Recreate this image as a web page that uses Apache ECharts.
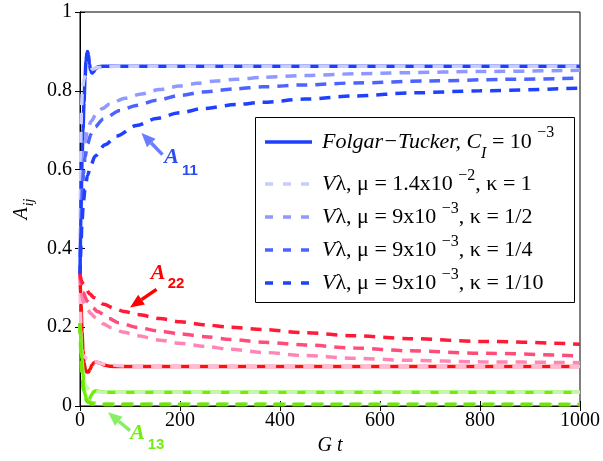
<!DOCTYPE html>
<html><head><meta charset="utf-8">
<script src="https://cdn.jsdelivr.net/npm/echarts@6/dist/echarts.min.js"></script>
<style>html,body{margin:0;padding:0;background:#fff}#c{width:603px;height:461px}</style>
</head><body><div id="c"></div>
<script>
// ---- axis ticks ----
const xTicks = [0, 200, 400, 600, 800, 1000];
const yTicks = [0, 0.2, 0.4, 0.6, 0.8, 1];

// ---- A11 (blue) : [Gt, value] ----
const a11_FT  = [[0,0.33],[2,0.5],[4,0.62],[6,0.7],[8,0.77],[10,0.83],[12,0.875],[14,0.897],[15,0.9],[17,0.89],[19,0.868],[21,0.852],[24,0.845],[27,0.848],[31,0.856],[36,0.861],[45,0.862],[1000,0.862]];
const a11_k1  = [[0,0.33],[1,0.55],[2,0.7],[3,0.76],[5,0.805],[8,0.83],[12,0.842],[18,0.85],[25,0.855],[35,0.859],[50,0.861],[80,0.862],[1000,0.862]];
const a11_k2  = [[0,0.33],[2,0.47],[4,0.56],[7,0.63],[10,0.67],[15,0.7],[22,0.722],[33,0.742],[45,0.755],[60,0.767],[90,0.781],[123,0.792],[159,0.803],[199,0.812],[235,0.819],[272,0.825],[312,0.829],[365,0.834],[450,0.839],[550,0.843],[650,0.846],[800,0.849],[1000,0.852]];
const a11_k4  = [[0,0.33],[2,0.44],[4,0.52],[7,0.59],[10,0.63],[15,0.665],[22,0.69],[30,0.708],[46,0.728],[80,0.75],[113,0.763],[153,0.776],[199,0.788],[246,0.797],[312,0.805],[365,0.81],[450,0.815],[550,0.82],[700,0.825],[850,0.829],[1000,0.832]];
const a11_k10 = [[0,0.33],[2,0.41],[4,0.47],[7,0.52],[10,0.55],[15,0.585],[22,0.612],[30,0.634],[50,0.663],[73,0.685],[113,0.712],[153,0.73],[199,0.744],[246,0.755],[312,0.765],[365,0.771],[450,0.779],[550,0.787],[670,0.795],[800,0.8],[1000,0.807]];

// ---- A22 (red) ----
const a22_FT  = [[0,0.335],[2,0.26],[4,0.19],[6,0.14],[8,0.11],[11,0.092],[14,0.086],[17,0.086],[20,0.093],[24,0.104],[28,0.11],[32,0.112],[38,0.11],[48,0.104],[60,0.101],[80,0.1],[1000,0.1]];
const a22_k1  = [[0,0.335],[1,0.24],[2,0.18],[3,0.15],[5,0.132],[8,0.125],[15,0.12],[30,0.112],[50,0.106],[80,0.102],[120,0.1],[1000,0.1]];
const a22_k2  = [[0,0.335],[1,0.31],[3,0.285],[6,0.267],[10,0.255],[15,0.245],[22,0.234],[30,0.225],[46,0.209],[62,0.199],[88,0.187],[115,0.178],[160,0.167],[200,0.159],[250,0.151],[300,0.144],[365,0.136],[450,0.128],[550,0.121],[658,0.116],[800,0.112],[1000,0.11]];
const a22_k4  = [[0,0.335],[2,0.31],[6,0.288],[15,0.265],[25,0.25],[35,0.24],[58,0.222],[78,0.211],[115,0.199],[160,0.19],[200,0.183],[250,0.176],[300,0.169],[365,0.162],[450,0.155],[550,0.147],[658,0.14],[800,0.134],[1000,0.127]];
const a22_k10 = [[0,0.335],[3,0.318],[6,0.31],[12,0.296],[20,0.284],[28,0.275],[48,0.258],[68,0.248],[88,0.24],[115,0.232],[160,0.222],[200,0.214],[250,0.206],[300,0.2],[365,0.194],[450,0.186],[550,0.178],[658,0.171],[800,0.164],[1000,0.157]];

// ---- A13 (green) ----
const a13_FT  = [[0,0.21],[2,0.17],[4,0.12],[6,0.08],[8,0.05],[10,0.03],[13,0.017],[16,0.013],[19,0.018],[23,0.028],[27,0.036],[32,0.039],[38,0.037],[50,0.035],[1000,0.035]];
const a13_k1  = [[0,0.21],[2,0.16],[4,0.11],[6,0.08],[9,0.06],[13,0.048],[20,0.04],[30,0.036],[50,0.035],[1000,0.035]];
const a13_k2  = [[0,0.21],[2,0.15],[4,0.1],[7,0.055],[10,0.03],[15,0.015],[25,0.008],[50,0.005],[1000,0.004]];
const a13_k4  = [[0,0.21],[2,0.14],[4,0.09],[7,0.045],[10,0.025],[15,0.012],[25,0.006],[50,0.004],[1000,0.004]];
const a13_k10 = [[0,0.21],[2,0.13],[4,0.08],[7,0.04],[10,0.02],[15,0.01],[25,0.005],[50,0.004],[1000,0.004]];

// ---- legend labels (rich text) ----
const legendNames = ['FT', 'k1', 'k2', 'k4', 'k10'];
const legendLabels = [
  '{it|Folgar\u2212Tucker, C}{sub|I}{n| = 10 }{sup1|\u22123}',
  '{it|V}{n|\u03bb, \u03bc = 1.4x10 }{sup|\u22122}{n|, \u03ba = 1}',
  '{it|V}{n|\u03bb, \u03bc = 9x10 }{sup|\u22123}{n|, \u03ba = 1/2}',
  '{it|V}{n|\u03bb, \u03bc = 9x10 }{sup|\u22123}{n|, \u03ba = 1/4}',
  '{it|V}{n|\u03bb, \u03bc = 9x10 }{sup|\u22123}{n|, \u03ba = 1/10}'
];

const SERIF = 'Liberation Serif';
const SANS = 'Liberation Sans';
const DASH = [11, 8];
const LEG_DASH = [8, 10];
const LW = 3.5;

const seriesDefs = [
  {name:'FT',     data:a11_FT,  color:'#1f3fff', dash:false},
  {name:'k1',     data:a11_k1,  color:'#c8ccff', dash:true},
  {name:'k2',     data:a11_k2,  color:'#8f99ff', dash:true},
  {name:'k4',     data:a11_k4,  color:'#4d63ff', dash:true},
  {name:'k10',    data:a11_k10, color:'#2040ff', dash:true},
  {name:'FT_22',  data:a22_FT,  color:'#ff1010', dash:false},
  {name:'k1_22',  data:a22_k1,  color:'#ffbad8', dash:true},
  {name:'k2_22',  data:a22_k2,  color:'#ff86b4', dash:true},
  {name:'k4_22',  data:a22_k4,  color:'#ff4d7a', dash:true},
  {name:'k10_22', data:a22_k10, color:'#ff1a38', dash:true},
  {name:'FT_13',  data:a13_FT,  color:'#6ef000', dash:false},
  {name:'k1_13',  data:a13_k1,  color:'#c8f5b4', dash:true},
  {name:'k2_13',  data:a13_k2,  color:'#a8ee7a', dash:true},
  {name:'k4_13',  data:a13_k4,  color:'#88ea3a', dash:true},
  {name:'k10_13', data:a13_k10, color:'#6ee800', dash:true}
];

const chart = echarts.init(document.getElementById('c'), null, {renderer:'canvas'});

const numFmt = v => '{t|' + String(+(+v).toFixed(4)) + '}';
const tickRich = {t:{fontFamily:SERIF, fontSize:20, color:'#000'}};
const axisCommon = {
  type:'value',
  axisLine:{show:true, lineStyle:{color:'#000', width:1}},
  axisTick:{show:true, inside:true, length:5, lineStyle:{color:'#000'}},
  splitLine:{show:false}
};

chart.setOption({
  animation:false,
  backgroundColor:'#fff',
  textStyle:{fontFamily:SERIF},
  grid:{left:80, right:21, top:12, bottom:54, show:true, borderColor:'#000', borderWidth:1, containLabel:false},
  xAxis:[
    Object.assign({}, axisCommon, {
      min:xTicks[0], max:xTicks[xTicks.length-1], interval:xTicks[1]-xTicks[0], position:'bottom',
      axisLabel:{color:'#000', fontFamily:SERIF, fontSize:20, margin:5, formatter:numFmt, rich:tickRich},
      name:'{g|G t}', nameLocation:'middle', nameGap:30,
      nameTextStyle:{rich:{g:{fontFamily:SERIF, fontStyle:'italic', fontSize:20, color:'#000'}}}
    }),
    Object.assign({}, axisCommon, {
      min:xTicks[0], max:xTicks[xTicks.length-1], interval:xTicks[1]-xTicks[0], position:'top',
      axisLabel:{show:false}
    })
  ],
  yAxis:[
    Object.assign({}, axisCommon, {
      min:yTicks[0], max:yTicks[yTicks.length-1], interval:yTicks[1]-yTicks[0], position:'left',
      axisLabel:{color:'#000', fontFamily:SERIF, fontSize:20, margin:8, formatter:numFmt, rich:tickRich},
      name:'{a|A}{s|ij}', nameLocation:'middle', nameRotate:90, nameGap:40,
      nameTextStyle:{rich:{
        a:{fontFamily:SERIF, fontStyle:'italic', fontSize:20, color:'#000'},
        s:{fontFamily:SERIF, fontStyle:'italic', fontSize:14, color:'#000', padding:[14,0,0,1]}
      }}
    }),
    Object.assign({}, axisCommon, {
      min:yTicks[0], max:yTicks[yTicks.length-1], interval:yTicks[1]-yTicks[0], position:'right',
      axisLabel:{show:false}
    })
  ],
  series: seriesDefs.map(d => ({
    name:d.name, type:'line', data:d.data, xAxisIndex:0, yAxisIndex:0,
    symbol:'none', smooth:0.3, smoothMonotone:'x',
    lineStyle:{color:d.color, width:LW, type:d.dash ? DASH : 'solid', cap:'butt'},
    itemStyle:{color:d.color},
    emphasis:{disabled:true}
  }))
});

// ---- legend box (drawn as graphic so the rows sit exactly) ----
const legendRich = {
  it:{fontFamily:SERIF, fontStyle:'italic', fontSize:22, lineHeight:30},
  n:{fontFamily:SERIF, fontSize:22, lineHeight:30},
  sub:{fontFamily:SERIF, fontStyle:'italic', fontSize:16, padding:[24,0,0,0]},
  sup1:{fontFamily:SERIF, fontSize:16, padding:[0,0,18,0]},
  sup:{fontFamily:SERIF, fontSize:16, padding:[0,0,16,0]}
};
const box = {x:255, y:117, w:319, h:185};
const rowY = [142, 184, 217, 250, 283];
const legendG = [{type:'rect', shape:{x:box.x+0.5, y:box.y+0.5, width:box.w, height:box.h}, style:{fill:'#fff', stroke:'#000', lineWidth:1}, z:90}];
legendNames.forEach((nm, i) => {
  const d = seriesDefs.find(s => s.name === nm);
  legendG.push({type:'line', shape:{x1:box.x+10, y1:rowY[i], x2:box.x+57, y2:rowY[i]},
    style:{stroke:d.color, lineWidth:LW, lineDash:d.dash ? LEG_DASH : null}, z:91});
  legendG.push({type:'text', x:box.x+67, y:rowY[i],
    style:{text:legendLabels[i], rich:legendRich, fill:'#000', verticalAlign:'middle', align:'left'}, z:91});
});

// ---- annotations (positions given in data space, converted by the chart) ----
function px(p){ return chart.convertToPixel({gridIndex:0}, p); }
function arrow(tail, tip, color){
  const a = px(tail), b = px(tip);
  const dx = b[0]-a[0], dy = b[1]-a[1], len = Math.hypot(dx,dy);
  const ux = dx/len, uy = dy/len, L = 14, W = 6;
  const bx = b[0]-ux*L, by = b[1]-uy*L;
  return [
    {type:'line', shape:{x1:a[0], y1:a[1], x2:bx, y2:by}, style:{stroke:color, lineWidth:3.5}, z:100},
    {type:'polygon', shape:{points:[[b[0],b[1]],[bx-uy*W, by+ux*W],[bx+uy*W, by-ux*W]]}, style:{fill:color}, z:100}
  ];
}
function label(pA, pS, main, sub, color){
  const a = px(pA), s = px(pS);
  return [
    {type:'text', x:a[0], y:a[1], style:{text:main, fill:color, fontFamily:SERIF, fontStyle:'italic', fontWeight:'bold', fontSize:22, align:'center', verticalAlign:'middle'}, z:100},
    {type:'text', x:s[0], y:s[1], style:{text:sub, fill:color, fontFamily:SANS, fontWeight:'bold', fontSize:15, align:'center', verticalAlign:'middle'}, z:100}
  ];
}
const g = [].concat(
  legendG,
  arrow([165,0.638],[123,0.693],'#6a7dff'),
  label([183,0.63],[220,0.596],'A','11','#2a4df0'),
  arrow([153,0.296],[100,0.25],'#ff0000'),
  label([156,0.337],[192,0.309],'A','22','#ff0000'),
  arrow([100,-0.0625],[56,-0.016],'#88ee66'),
  label([115,-0.07],[152,-0.099],'A','13','#70ee10')
);
chart.setOption({graphic:g});
</script></body></html>
